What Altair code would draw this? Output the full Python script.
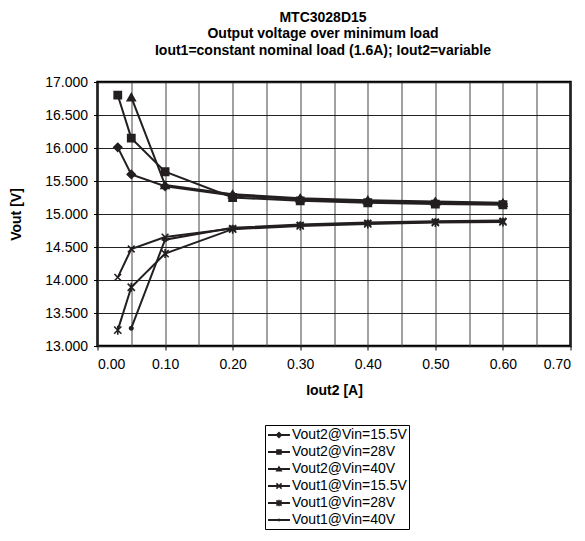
import altair as alt
import pandas as pd

# ---- data ----
iout2 = [0.03, 0.05, 0.1, 0.2, 0.3, 0.4, 0.5, 0.6]
series_names = [
    "Vout2@Vin=15.5V",
    "Vout2@Vin=28V",
    "Vout2@Vin=40V",
    "Vout1@Vin=15.5V",
    "Vout1@Vin=28V",
    "Vout1@Vin=40V",
]
vout2_155 = [16.01, 15.60, 15.42, 15.28, 15.22, 15.19, 15.17, 15.15]
vout2_28 = [16.80, 16.15, 15.64, 15.25, 15.20, 15.17, 15.15, 15.14]
vout2_40 = [None, 16.77, 15.44, 15.30, 15.24, 15.21, 15.19, 15.17]
vout1_155 = [14.04, 14.47, 14.65, 14.78, 14.83, 14.86, 14.88, 14.89]
vout1_28 = [13.24, 13.89, 14.40, 14.77, 14.82, 14.85, 14.87, 14.88]
vout1_40 = [None, 13.27, 14.61, 14.79, 14.84, 14.87, 14.89, 14.90]
all_series = [vout2_155, vout2_28, vout2_40, vout1_155, vout1_28, vout1_40]

x_values = [round(i * 0.05, 2) for i in range(15)]
y_values = [13.0 + 0.5 * i for i in range(9)]

rows = []
for name, vals in zip(series_names, all_series):
    for xv, yv in zip(iout2, vals):
        if yv is not None:
            rows.append({"series": name, "iout2": xv, "vout": yv})
df = pd.DataFrame(rows)

INK = "#231f20"
FONT = "Liberation Sans"

# plot marker shapes
plot_shapes = [
    "diamond",
    "square",
    "triangle-up",
    "M-1,-1L1,1M-1,1L1,-1",
    "M-1,-1L1,1M-1,1L1,-1M0,-1.25L0,1.25",
    "circle",
]
plot_sizes = [64, 52, 64, 45, 52, 12]

# legend symbols: a short line with the marker on it, built from filled outlines
LINE = "M-1,-0.14L2.14,-0.14L2.14,0.14L-1,0.14Z"
XMARK = (
    "M0.278,-0.448L1.018,0.292L0.862,0.448L0.122,-0.292Z"
    "M0.278,0.448L0.122,0.292L0.862,-0.448L1.018,-0.292Z"
)
legend_shapes = [
    LINE + "M0.57,-0.5L1.07,0L0.57,0.5L0.07,0Z",
    LINE + "M0.17,-0.4L0.97,-0.4L0.97,0.4L0.17,0.4Z",
    LINE + "M0.57,-0.5L1.07,0.35L0.07,0.35Z",
    LINE + XMARK,
    LINE + XMARK + "M0.46,-0.47L0.68,-0.47L0.68,0.47L0.46,0.47Z",
    LINE + "M0.57,-0.24L0.81,0L0.57,0.24L0.33,0Z",
]

x_axis = alt.Axis(
    values=x_values,
    labelExpr="round(datum.value*20) % 2 == 0 ? format(datum.value, '.2f') : ''",
    tickOpacity={"condition": {"test": "round(datum.value*20) % 2 == 0", "value": 1}, "value": 0},
    title="Iout2 [A]",
    grid=True,
    gridColor="#444444",
    gridWidth=1,
    domain=False,
    tickSize=4,
    tickColor="black",
    labelPadding=7,
    labelFontSize=14,
    titlePadding=12,
)
y_axis = alt.Axis(
    values=y_values,
    format=".3f",
    title="Vout [V]",
    grid=True,
    gridColor="#222222",
    gridWidth=1,
    domain=False,
    tickSize=4,
    tickColor="black",
    labelPadding=6,
    labelFontSize=14,
    titlePadding=21,
)
x_scale = alt.Scale(domain=[0, 0.7], nice=False)
y_scale = alt.Scale(domain=[13, 17], nice=False, zero=False)


def xe():
    return alt.X("iout2:Q", scale=x_scale, axis=x_axis)


def ye():
    return alt.Y("vout:Q", scale=y_scale, axis=y_axis)


lines = alt.Chart(df).mark_line(color=INK, strokeWidth=2).encode(
    x=xe(),
    y=ye(),
    detail="series:N",
)

points = alt.Chart(df).mark_point(
    filled=True, fill=INK, stroke=INK, strokeWidth=1.6, opacity=1
).encode(
    x=xe(),
    y=ye(),
    shape=alt.Shape("series:N", scale=alt.Scale(domain=series_names, range=plot_shapes), legend=None),
    size=alt.Size(
        "series:N",
        scale=alt.Scale(type="ordinal", domain=series_names, range=plot_sizes),
        legend=None,
    ),
)

legend_layer = alt.Chart(df).transform_filter("false").mark_point(
    filled=True, fill=INK, stroke=INK, strokeWidth=1.8, opacity=1
).encode(
    x=xe(),
    y=ye(),
    shape=alt.Shape(
        "series:N",
        scale=alt.Scale(domain=series_names, range=legend_shapes),
        legend=alt.Legend(
            title=None,
            orient="none",
            legendX=167.5,
            legendY=343,
            padding=2,
            strokeColor="black",
            fillColor="white",
            symbolSize=196,
            symbolFillColor=INK,
            symbolStrokeColor=INK,
            symbolOpacity=1,
            labelOffset=9,
            labelFontSize=14,
            labelColor="black",
            rowPadding=2,
        ),
    ),
)

chart = (
    alt.layer(lines, points, legend_layer)
    .resolve_scale(shape="independent", size="independent")
    .properties(
        width=473,
        height=264,
        autosize=alt.AutoSizeParams(type="none"),
        padding={"left": 89.5, "top": 74, "right": 5, "bottom": 187},
        title=alt.TitleParams(
            text=[
                "MTC3028D15",
                "Output voltage over minimum load",
                "Iout1=constant nominal load (1.6A); Iout2=variable",
            ],
            fontSize=14,
            fontWeight="bold",
            font=FONT,
            color="black",
            lineHeight=16.5,
            anchor="middle",
            dx=-11,
            offset=17.5,
        ),
    )
    .configure(font=FONT)
    .configure_view(stroke="black", strokeWidth=2.5)
    .configure_axis(
        labelFont=FONT,
        titleFont=FONT,
        labelColor="black",
        titleColor="black",
        titleFontSize=14,
        titleFontWeight="bold",
    )
    .configure_legend(labelFont=FONT)
)

chart.save("out.html", embed_options={"renderer": "svg", "actions": False})
